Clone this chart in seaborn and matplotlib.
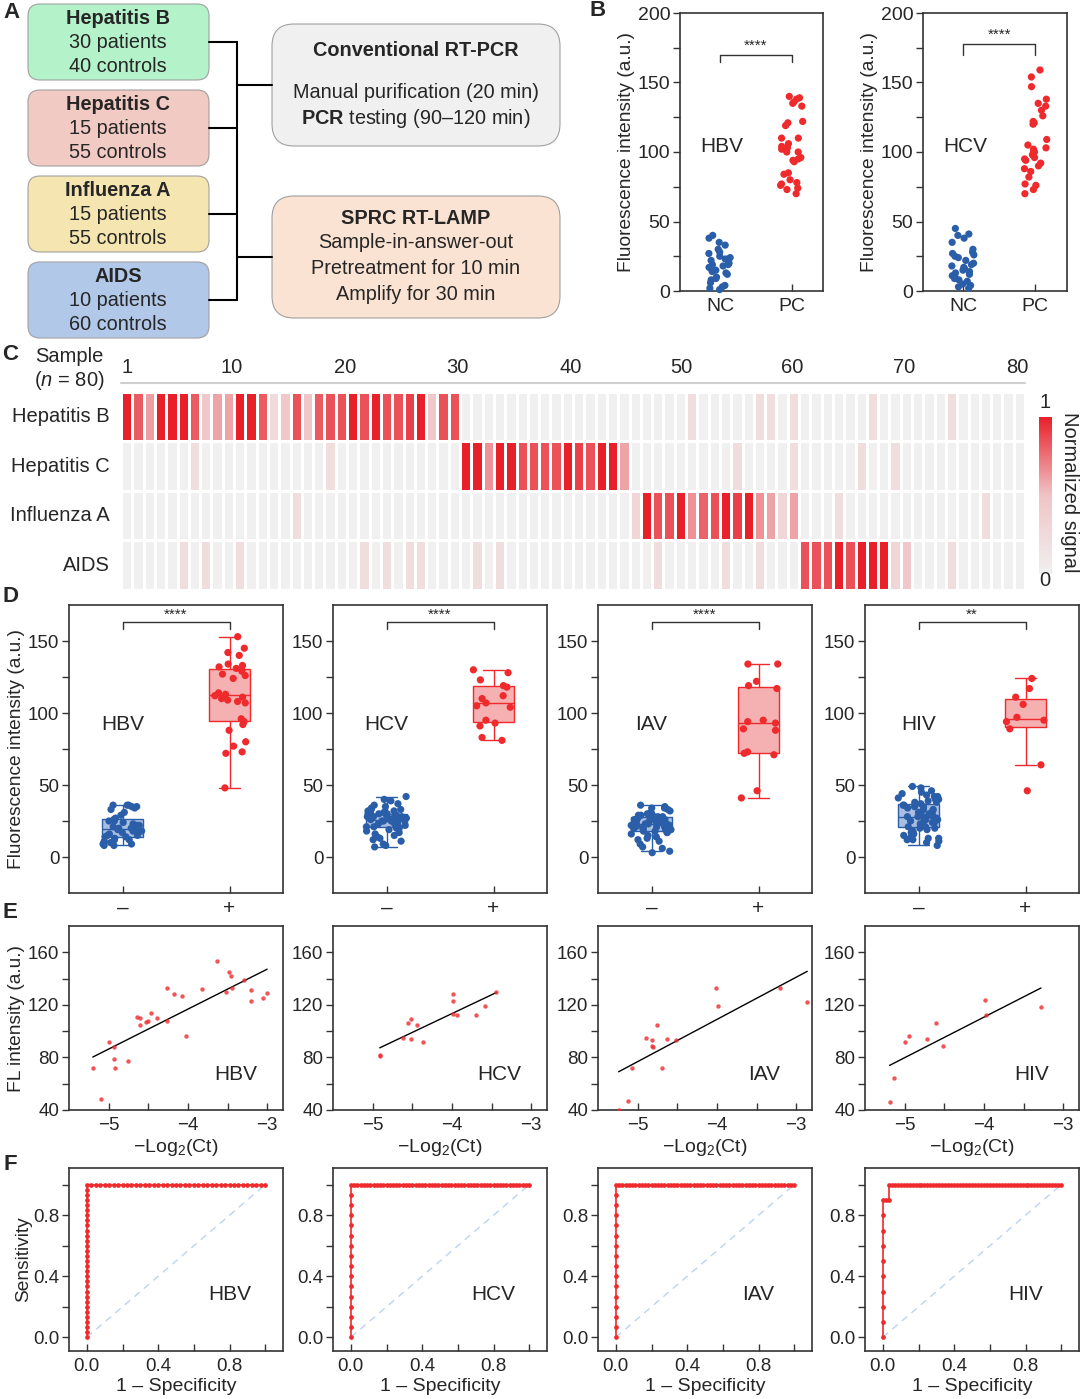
import numpy as np
import pandas as pd
import matplotlib
matplotlib.use("Agg")
import matplotlib.pyplot as plt
import seaborn as sns
from matplotlib.patches import FancyBboxPatch
from matplotlib.colors import LinearSegmentedColormap
from matplotlib.ticker import FixedLocator

W, H = 1080, 1399
sns.set_style("white")
plt.rcParams['font.family'] = ['Liberation Sans', 'DejaVu Sans']
plt.rcParams['mathtext.fontset'] = 'custom'
plt.rcParams['mathtext.rm'] = 'Liberation Sans'
plt.rcParams['mathtext.it'] = 'Liberation Sans:italic'
plt.rcParams['mathtext.bf'] = 'Liberation Sans:bold'
plt.rcParams['mathtext.default'] = 'regular'

BLUE = '#2b5ea8'
RED = '#ee2a2d'
LBLUE = '#aabfe0'
LRED = '#f5b0b2'
DARK = '#333333'
YLAB = 13.8
TXT = 15

# ---------------- data ----------------
# Panel A
a_diseases = ["Hepatitis B", "Hepatitis C", "Influenza A", "AIDS"]
a_patients = [30, 15, 15, 10]
a_controls = [40, 55, 55, 60]
a_colors = ['#b4f2c9', '#f2cac4', '#f5e6b1', '#b1c8e8']

# Panel B
b_hbv_nc = [40, 38, 35, 33, 30, 28, 27, 25, 24, 23, 23, 22, 20, 19, 19, 18, 17, 16, 15, 14,
            13, 12, 10, 9, 8, 6, 4, 3, 2, 1]
b_hbv_pc = [140, 139, 138, 136, 135, 133, 122, 121, 119, 110, 110, 106, 104, 103, 102, 100,
            100, 96, 95, 94, 93, 85, 84, 80, 78, 77, 76, 74, 73, 70]
b_hcv_nc = [45, 41, 40, 38, 35, 30, 28, 27, 26, 25, 24, 22, 20, 19, 18, 17, 16, 15, 14, 13,
            12, 11, 10, 9, 8, 7, 5, 4, 3, 2]
b_hcv_pc = [159, 154, 147, 138, 135, 133, 130, 126, 122, 121, 120, 109, 105, 103, 102, 101,
            100, 98, 96, 95, 94, 92, 90, 88, 86, 82, 77, 76, 73, 70]

# Panel C (normalized signal)
hm_rows = ["Hepatitis B", "Hepatitis C", "Influenza A", "AIDS"]
hm_start = [1, 31, 46, 61]
hm_hbv = [1.0, 0.82, 0.62, 1.0, 1.0, 1.0, 0.82, 0.45, 0.6, 0.6, 1.0, 1.0, 0.82, 0.25, 0.45,
          0.85, 0.45, 0.82, 0.85, 0.85, 1.0, 0.85, 1.0, 0.85, 0.85, 0.9, 1.0, 0.45, 0.85, 0.85]
hm_hcv = [1.0, 1.0, 0.65, 1.0, 1.0, 0.85, 0.85, 0.85, 0.85, 1.0, 0.9, 0.85, 1.0, 1.0, 0.6]
hm_iav = [0.3, 1.0, 0.85, 0.85, 1.0, 0.65, 0.8, 0.85, 1.0, 0.9, 1.0, 0.65, 0.6, 0.3, 0.6]
hm_aids = [0.85, 0.85, 0.85, 1.0, 0.85, 1.0, 1.0, 1.0, 0.3, 0.45]
hm_faint_hbv = [51, 57, 58, 60, 67, 74]
hm_faint_hcv = [7, 19, 55, 60, 66, 69]
hm_faint_iav = [16, 64, 77]
hm_faint_aids = [6, 8, 11, 22, 24, 26, 27, 32, 34, 48, 54, 57, 74]
hm_faint_value = 0.22
hm_tick_labels = ["1", "10", "20", "30", "40", "50", "60", "70", "80"]

# Panel D
d_hbv_neg = [8, 8, 9, 9, 10, 11, 12, 12, 13, 14, 14, 15, 15, 16, 17, 17, 18, 18, 19, 19,
             20, 20, 21, 22, 22, 23, 24, 25, 25, 26, 27, 29, 31, 33, 34, 35, 35, 36, 36, 36]
d_hbv_pos = [48, 72, 73, 77, 80, 88, 92, 94, 96, 107, 108, 109, 110, 111, 112, 113, 114, 124,
             126, 127, 129, 130, 131, 132, 133, 134, 140, 142, 145, 153]
d_hcv_neg = [7, 8, 9, 11, 12, 13, 14, 15, 16, 17, 18, 19, 20, 20, 21, 21, 22, 22, 23, 23, 24,
             24, 25, 25, 25, 26, 26, 26, 26, 27, 27, 27, 28, 28, 28, 29, 29, 29, 30, 30, 30,
             30, 31, 31, 32, 32, 33, 33, 34, 35, 36, 37, 39, 40, 42]
d_hcv_pos = [81, 83, 91, 93, 95, 104, 105, 107, 110, 112, 118, 119, 123, 128, 130]
d_iav_neg = [3, 4, 6, 7, 9, 11, 12, 13, 14, 15, 16, 17, 17, 18, 18, 19, 19, 20, 20, 20, 21,
             21, 21, 22, 22, 22, 23, 23, 23, 24, 24, 24, 25, 25, 25, 26, 26, 26, 27, 27, 27,
             28, 28, 28, 29, 29, 30, 30, 31, 32, 33, 34, 34, 35, 36]
d_iav_pos = [41, 46, 71, 72, 73, 88, 89, 93, 94, 95, 117, 119, 122, 134, 134]
d_hiv_neg = [8, 10, 11, 12, 12, 13, 13, 14, 15, 16, 17, 18, 19, 20, 20, 21, 21, 22, 23, 24,
             24, 25, 25, 26, 26, 27, 27, 27, 28, 28, 28, 29, 29, 30, 30, 31, 32, 33, 33, 34,
             35, 35, 36, 36, 37, 37, 38, 38, 39, 40, 40, 41, 42, 42, 43, 44, 45, 46, 48, 49]
d_hiv_pos = [46, 64, 89, 94, 95, 97, 106, 111, 117, 124]
d_sig = ["****", "****", "****", "**"]
names = ["HBV", "HCV", "IAV", "HIV"]

# Panel E
e_hbv_x = [-5.20, -5.10, -4.99, -4.93, -4.93, -4.92, -4.76, -4.64, -4.61, -4.61, -4.53, -4.50,
           -4.46, -4.39, -4.26, -4.26, -4.17, -4.07, -4.03, -3.82, -3.63, -3.52, -3.48, -3.45,
           -3.44, -3.29, -3.21, -3.21, -3.05, -3.00]
e_hbv_y = [72, 48, 92, 88, 79, 72, 77, 111, 110, 105, 107, 108, 114, 110, 108, 133, 128, 127,
           96, 132, 153, 130, 145, 142, 133, 139, 131, 123, 125, 129]
e_hcv_x = [-4.91, -4.91, -4.62, -4.55, -4.52, -4.52, -4.44, -4.36, -3.99, -3.99, -3.99, -3.94,
           -3.70, -3.58, -3.44]
e_hcv_y = [82, 81, 95, 106, 109, 94, 105, 92, 128, 123, 113, 112, 112, 119, 130]
e_iav_x = [-5.24, -5.12, -5.07, -4.90, -4.82, -4.82, -4.80, -4.75, -4.69, -4.63, -4.52, -4.01,
           -3.99, -3.21, -2.86]
e_iav_y = [40, 47, 72, 95, 93, 89, 88, 105, 72, 94, 93, 133, 119, 133, 122]
e_hiv_x = [-5.19, -5.14, -5.00, -4.95, -4.72, -4.61, -4.51, -3.99, -3.97, -3.28]
e_hiv_y = [46, 64, 92, 96, 94, 106, 89, 124, 112, 118]


def px(l, t, r, b):
    return [l / W, 1 - b / H, (r - l) / W, (b - t) / H]


def style(ax, fs=13):
    for s in ax.spines.values():
        s.set_visible(True)
        s.set_color(DARK)
        s.set_linewidth(1.2)
    ax.tick_params(axis='y', which='both', direction='out', length=5, width=1, color=DARK,
                   labelsize=fs, left=True, pad=2)
    ax.tick_params(axis='x', which='both', direction='in', length=5, width=1, color=DARK,
                   labelsize=fs, bottom=True, pad=5)


fig = plt.figure(figsize=(W / 100, H / 100), dpi=100)

# ---------------- Panel B ----------------
for i, (nc, pc, name, l, r, brk, drop, ty) in enumerate([
        (b_hbv_nc, b_hbv_pc, "HBV", 680, 823, 170, 5, 104),
        (b_hcv_nc, b_hcv_pc, "HCV", 923, 1067, 178, 8, 104)]):
    ax = fig.add_axes(px(l, 13, r, 291))
    df = pd.DataFrame({'grp': ['NC'] * len(nc) + ['PC'] * len(pc), 'val': nc + pc})
    np.random.seed(11 + i)
    sns.stripplot(data=df, x='grp', y='val', hue='grp', order=['NC', 'PC'],
                  palette={'NC': BLUE, 'PC': RED}, jitter=0.16, size=5.2, linewidth=0,
                  legend=False, ax=ax, clip_on=False, zorder=3)
    ax.set_xlim(-0.56, 1.44)
    ax.set_ylim(0, 200)
    ax.yaxis.set_major_locator(FixedLocator([0, 50, 100, 150, 200]))
    ax.yaxis.set_minor_locator(FixedLocator([25, 75, 125, 175]))
    style(ax, 14)
    ax.set_xlabel('')
    ax.set_ylabel('Fluorescence intensity (a.u.)', fontsize=YLAB, labelpad=2)
    ax.plot([0, 0, 1, 1], [brk - drop, brk, brk, brk - drop], color=DARK, lw=1)
    ax.text(0.5, brk + 1.5, '****', ha='center', va='bottom', fontsize=11)
    ax.text(0.03, ty, name, ha='center', va='center', fontsize=TXT)

# ---------------- Panel C ----------------
mat = np.zeros((4, 80))
for r_i, (start, vals, faint) in enumerate(zip(hm_start, [hm_hbv, hm_hcv, hm_iav, hm_aids],
                                                [hm_faint_hbv, hm_faint_hcv, hm_faint_iav,
                                                 hm_faint_aids])):
    mat[r_i, start - 1:start - 1 + len(vals)] = vals
    for c in faint:
        mat[r_i, c - 1] = hm_faint_value
hm_df = pd.DataFrame(mat, index=hm_rows, columns=range(1, 81))
cmap = LinearSegmentedColormap.from_list('sig', ['#f0f0f0', '#f0c4c6', '#e8202a'], N=256)
axC = fig.add_axes(px(121, 392, 1025, 590))
cax = fig.add_axes(px(1039, 417, 1052, 574))
sns.heatmap(hm_df, ax=axC, cmap=cmap, vmin=0, vmax=1, linewidths=1.8, linecolor='white',
            cbar_ax=cax, xticklabels=False, yticklabels=hm_rows)
axC.set_yticklabels(hm_rows, rotation=0, fontsize=14.5)
axC.tick_params(axis='y', length=0, pad=8, left=False)
axC.xaxis.tick_top()
axC.set_xticks([0.5, 9.8, 19.8, 29.8, 39.8, 49.6, 59.4, 69.3, 79.3])
axC.set_xticklabels(hm_tick_labels, fontsize=14.5)
axC.tick_params(axis='x', length=0, pad=11, top=False)
axC.set_xlabel('')
axC.set_ylabel('')
axC.plot([0, 1], [1.045, 1.045], transform=axC.transAxes, clip_on=False, color='#cfcfcf', lw=1.5)
cbar = axC.collections[0].colorbar
cbar.set_ticks([])
cbar.outline.set_visible(False)

# ---------------- Panel D ----------------
lefts = [69, 333, 598, 865]
d_negs = [d_hbv_neg, d_hcv_neg, d_iav_neg, d_hiv_neg]
d_poss = [d_hbv_pos, d_hcv_pos, d_iav_pos, d_hiv_pos]
order = ['–', '+']
for i in range(4):
    ax = fig.add_axes(px(lefts[i], 605, lefts[i] + 214, 893))
    neg, pos = d_negs[i], d_poss[i]
    df = pd.DataFrame({'grp': ['–'] * len(neg) + ['+'] * len(pos), 'val': neg + pos})
    sns.boxplot(data=df[df.grp == '–'], x='grp', y='val', order=order, color=LBLUE,
                linecolor=BLUE, saturation=1, width=0.39, showfliers=False, linewidth=1.0,
                ax=ax)
    sns.boxplot(data=df[df.grp == '+'], x='grp', y='val', order=order, color=LRED,
                linecolor=RED, saturation=1, width=0.39, showfliers=False, linewidth=1.0,
                ax=ax)
    np.random.seed(21 + i)
    sns.stripplot(data=df, x='grp', y='val', hue='grp', order=order,
                  palette={'–': BLUE, '+': RED}, jitter=0.19, size=5.2, linewidth=0,
                  legend=False, ax=ax, zorder=4)
    ax.set_xlim(-0.5, 1.5)
    ax.set_ylim(-25, 175)
    ax.yaxis.set_major_locator(FixedLocator([0, 50, 100, 150]))
    ax.yaxis.set_minor_locator(FixedLocator([25, 75, 125]))
    style(ax, 13.5)
    ax.tick_params(axis='x', labelsize=15, pad=4)
    ax.set_xlabel('')
    ax.set_ylabel('Fluorescence intensity (a.u.)' if i == 0 else '', fontsize=YLAB, labelpad=2)
    ax.plot([0, 0, 1, 1], [158, 163, 163, 158], color=DARK, lw=1)
    ax.text(0.5, 163.5, d_sig[i], ha='center', va='bottom', fontsize=11)
    ax.text(0, 92, names[i], ha='center', va='center', fontsize=TXT)

# ---------------- Panel E ----------------
e_xs = [e_hbv_x, e_hcv_x, e_iav_x, e_hiv_x]
e_ys = [e_hbv_y, e_hcv_y, e_iav_y, e_hiv_y]
for i in range(4):
    ax = fig.add_axes(px(lefts[i], 926, lefts[i] + 214, 1110))
    sns.regplot(x=np.array(e_xs[i]), y=np.array(e_ys[i]), ax=ax, ci=None, color=RED,
                scatter_kws={'s': 10, 'linewidths': 0, 'color': RED, 'zorder': 3},
                line_kws={'color': 'black', 'lw': 1.0})
    ax.set_xlim(-5.5, -2.8)
    ax.set_ylim(40, 180)
    ax.xaxis.set_major_locator(FixedLocator([-5, -4, -3]))
    ax.xaxis.set_minor_locator(FixedLocator([-4.5, -3.5]))
    ax.yaxis.set_major_locator(FixedLocator([40, 80, 120, 160]))
    ax.yaxis.set_minor_locator(FixedLocator([60, 100, 140]))
    style(ax, 13.5)
    ax.set_xticklabels(['−5', '−4', '−3'])
    ax.set_xlabel('−Log$_2$(Ct)', fontsize=14, labelpad=2)
    ax.set_ylabel('FL intensity (a.u.)' if i == 0 else '', fontsize=YLAB, labelpad=2)
    ax.text(-3.4, 67, names[i], ha='center', va='center', fontsize=TXT)

# ---------------- Panel F ----------------
for i in range(4):
    ax = fig.add_axes(px(lefts[i], 1168, lefts[i] + 214, 1351))
    neg, pos = np.array(d_negs[i]), np.array(d_poss[i])
    vals = np.concatenate([pos, neg])
    lab = np.concatenate([np.ones(len(pos)), np.zeros(len(neg))])
    idx = np.argsort(-vals, kind='stable')
    tpr = np.concatenate([[0], np.cumsum(lab[idx]) / len(pos)])
    fpr = np.concatenate([[0], np.cumsum(1 - lab[idx]) / len(neg)])
    ax.plot([0, 1], [0, 1], ls=(0, (5, 4)), color='#bcd3f0', lw=1)
    sns.lineplot(x=fpr, y=tpr, sort=False, estimator=None, ax=ax, color=RED, lw=1.2,
                 marker='o', markersize=3.4, markeredgewidth=0)
    ax.set_xlim(-0.1, 1.1)
    ax.set_ylim(-0.09, 1.11)
    for axis in (ax.xaxis, ax.yaxis):
        axis.set_major_locator(FixedLocator([0, 0.4, 0.8]))
        axis.set_minor_locator(FixedLocator([0.2, 0.6, 1.0]))
    style(ax, 13.5)
    ax.set_xticklabels(['0.0', '0.4', '0.8'])
    ax.set_yticklabels(['0.0', '0.4', '0.8'])
    ax.set_xlabel('1 – Specificity', fontsize=14, labelpad=2)
    ax.set_ylabel('Sensitivity' if i == 0 else '', fontsize=YLAB, labelpad=1)
    ax.text(0.8, 0.28, names[i], ha='center', va='center', fontsize=TXT)

# ---------------- overlay: Panel A + labels ----------------
ov = fig.add_axes([0, 0, 1, 1])
ov.set_xlim(0, W)
ov.set_ylim(H, 0)
ov.axis('off')
ov.patch.set_alpha(0)

FA = 14.3
tops = [4, 90, 176, 262]
for t, dname, npt, nct, col in zip(tops, a_diseases, a_patients, a_controls, a_colors):
    ov.add_patch(FancyBboxPatch((28, t), 181, 76, boxstyle="round,pad=0,rounding_size=12",
                                fc=col, ec='#a0a0a0', lw=0.8))
    ov.text(118, t + 14, dname, ha='center', va='center', fontsize=FA, fontweight='bold')
    ov.text(118, t + 38, f"{npt} patients", ha='center', va='center', fontsize=FA)
    ov.text(118, t + 62, f"{nct} controls", ha='center', va='center', fontsize=FA)
    ov.plot([209, 237], [t + 38, t + 38], color='black', lw=1.5)
ov.plot([237, 237], [42, 300], color='black', lw=1.5)
ov.plot([237, 272], [85, 85], color='black', lw=1.5)
ov.plot([237, 272], [257, 257], color='black', lw=1.5)
ov.add_patch(FancyBboxPatch((272, 24), 288, 122, boxstyle="round,pad=0,rounding_size=22",
                            fc='#f0f0f0', ec='#a0a0a0', lw=0.8))
ov.add_patch(FancyBboxPatch((272, 196), 288, 122, boxstyle="round,pad=0,rounding_size=22",
                            fc='#fbe3d3', ec='#a0a0a0', lw=0.8))
ov.text(416, 51, "Conventional RT-PCR", ha='center', va='center', fontsize=FA, fontweight='bold')
ov.text(416, 93, "Manual purification (20 min)", ha='center', va='center', fontsize=FA)
ov.text(416, 118, r"$\bf{PCR}$ testing (90–120 min)", ha='center', va='center', fontsize=FA)
ov.text(416, 218, "SPRC RT-LAMP", ha='center', va='center', fontsize=FA, fontweight='bold')
ov.text(416, 243, "Sample-in-answer-out", ha='center', va='center', fontsize=FA)
ov.text(416, 268, "Pretreatment for 10 min", ha='center', va='center', fontsize=FA)
ov.text(416, 294, "Amplify for 30 min", ha='center', va='center', fontsize=FA)

# Panel C extras
ov.text(69, 357, "Sample", ha='center', va='center', fontsize=14.5)
ov.text(69, 381, r"($\mathit{n}$ = 80)", ha='center', va='center', fontsize=14.5)
ov.text(1045, 402, "1", ha='center', va='center', fontsize=14.5)
ov.text(1045, 580, "0", ha='center', va='center', fontsize=14.5)
ov.text(1069, 492, "Normalized signal", ha='center', va='center', fontsize=14.5, rotation=270)

for lab_, (x, y) in zip("ABCDEF", [(11, 12), (598, 10), (10, 355), (10, 597), (10, 913), (10, 1165)]):
    ov.text(x, y, lab_, ha='center', va='center', fontsize=16, fontweight='bold')

fig.savefig("out.png", dpi=100)
